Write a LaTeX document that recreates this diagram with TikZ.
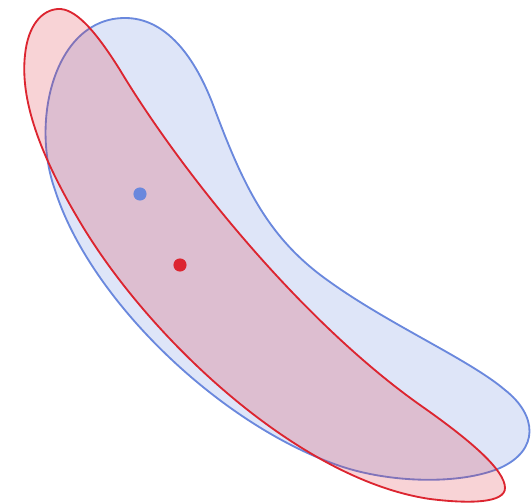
\documentclass[tikz,border=0pt]{standalone}
\usepackage{tikz}
\definecolor{BlobBlue}{HTML}{6A88DD}
\definecolor{BlobRed}{HTML}{DC2530}
\tikzset{
    % Region styles
    blueregion/.style={
        draw=BlobBlue,
        fill=BlobBlue,
        fill opacity=0.22,
        draw opacity=1,
        line width=1.05pt
    },
    redregion/.style={
        draw=BlobRed,
        fill=BlobRed,
        fill opacity=0.2,
        draw opacity=1,
        line width=1.05pt
    },
    % Centre markers
    centredot/.style={
        circle,
        inner sep=0pt,
        minimum size=7.5pt
    }
}
\begin{document}
\begin{tikzpicture}[x=0.02cm, y=-0.02cm]
    \useasboundingbox (0,0) rectangle (532,503);

    % blue bean
    \draw[blueregion] (125,18)
        .. controls (165,18) and (195,55) .. (215,110)
        .. controls (245,190) and (270,240) .. (330,282)
        .. controls (390,325) and (470,360) .. (505,390)
        .. controls (537,415) and (540,450) .. (500,468)
        .. controls (460,485) and (390,483) .. (340,466)
        .. controls (220,425) and (90,300) .. (55,190)
        .. controls (30,120) and (55,18) .. (125,18) -- cycle;

    % red lobe
    \draw[redregion] (58,9)
        .. controls (75,8) and (95,30) .. (120,70)
        .. controls (180,170) and (300,320) .. (420,405)
        .. controls (470,440) and (505,470) .. (505,488)
        .. controls (505,503) and (470,504) .. (430,499)
        .. controls (300,480) and (150,340) .. (80,222)
        .. controls (40,155) and (20,100) .. (25,55)
        .. controls (28,25) and (42,10) .. (58,9) -- cycle;

    \node[centredot, fill=BlobBlue] (bluecentre) at (140,194) {};
    \node[centredot, fill=BlobRed] (redcentre) at (180,265) {};
\end{tikzpicture}
\end{document}
